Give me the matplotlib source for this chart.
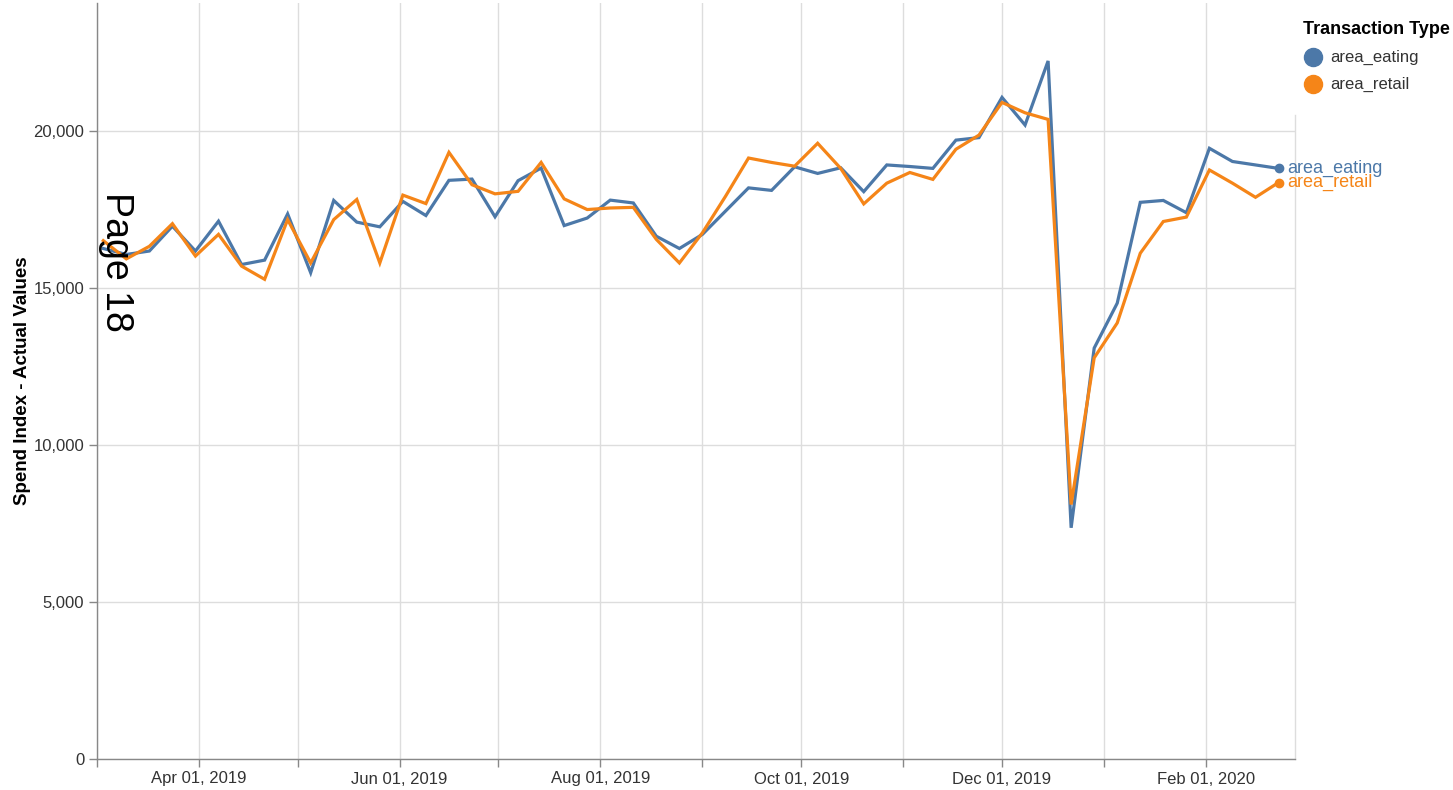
import matplotlib
matplotlib.use("Agg")
import matplotlib.pyplot as plt
import matplotlib.dates as mdates
from matplotlib.lines import Line2D
from matplotlib.ticker import FuncFormatter, MultipleLocator
import pandas as pd

plt.rcParams['font.family'] = ['Liberation Sans', 'DejaVu Sans']

week_start = "2019-03-03"
n_weeks = 52
dates = pd.date_range(week_start, periods=n_weeks, freq="7D")

area_eating = [16250, 16060, 16170, 16960, 16170, 17120, 15740, 15880, 17350, 15480,
               17780, 17090, 16940, 17750, 17300, 18420, 18460, 17260, 18410, 18810,
               16980, 17220, 17790, 17700, 16640, 16250, 16700, 17440, 18180, 18100,
               18850, 18640, 18820, 18060, 18910, 18860, 18800, 19700, 19780, 21060,
               20180, 22220, 7360, 13080, 14510, 17720, 17780, 17390, 19440, 19020,
               18910, 18800]
area_retail = [16500, 15920, 16320, 17040, 16010, 16700, 15690, 15270, 17170, 15790,
               17170, 17810, 15790, 17950, 17680, 19310, 18280, 17990, 18070, 18990,
               17830, 17490, 17540, 17560, 16540, 15790, 16750, 17910, 19130, 18990,
               18870, 19600, 18800, 17670, 18330, 18670, 18450, 19410, 19860, 20900,
               20570, 20360, 8100, 12770, 13880, 16100, 17110, 17250, 18750, 18330,
               17880, 18350]

series_names = ["area_eating", "area_retail"]
series_values = [area_eating, area_retail]
colors = ["#4c78a8", "#f58518"]

W, H = 1453, 790
fig = plt.figure(figsize=(W / 100, H / 100), dpi=100)
L, R, B, T = 96.7, 1295, 759, 3
ax = fig.add_axes([L / W, (H - B) / H, (R - L) / W, (B - T) / H])

for name, vals, c in zip(series_names, series_values, colors):
    ax.plot(dates, vals, color=c, lw=2.3, solid_joinstyle='miter', zorder=3)
    ax.plot(dates[-1:], vals[-1:], 'o', color=c, ms=6, zorder=4)
    ax.annotate(name, (dates[-1], vals[-1]), xytext=(6, 0), textcoords='offset points',
                color=c, fontsize=13, va='center', ha='left', annotation_clip=False)

ax.set_xlim(pd.Timestamp("2019-03-01"), pd.Timestamp("2020-02-28"))
ax.set_ylim(0, 24065)

ax.yaxis.set_major_locator(MultipleLocator(5000))
ax.yaxis.set_major_formatter(FuncFormatter(lambda v, p: f"{int(v):,}"))
ax.xaxis.set_major_locator(mdates.MonthLocator())
def xfmt(v, p):
    d = mdates.num2date(v)
    return d.strftime("%b %d, %Y") if d.month % 2 == 0 else ""
ax.xaxis.set_major_formatter(FuncFormatter(xfmt))

ax.grid(True, color="#dddddd", lw=1)
ax.set_axisbelow(True)
for s in ["top", "right"]:
    ax.spines[s].set_visible(False)
for s in ["left", "bottom"]:
    ax.spines[s].set_color("#888888")
    ax.spines[s].set_linewidth(1)
ax.tick_params(axis='both', colors="#888888", length=6, width=1, labelsize=12,
               labelcolor="#333333", pad=3)
# right edge grid line (partially hidden by legend)
ax.add_line(Line2D([1, 1], [0, (B - 115) / (B - T)], transform=ax.transAxes,
                   color="#dddddd", lw=1, clip_on=False))

ax.set_ylabel("Spend Index - Actual Values", fontsize=13.5, fontweight='bold',
              color="#000000", labelpad=2)

# Legend
fig.text(1303 / W, 1 - 30 / H, "Transaction Type", fontsize=13, fontweight='bold',
         va='center', ha='left', color="#000000")
for i, (name, c) in enumerate(zip(series_names, colors)):
    yy = 1 - (57 + 27 * i) / H
    fig.add_artist(Line2D([1313 / W], [yy], marker='o', ms=13, color=c,
                          linestyle='', transform=fig.transFigure))
    fig.text(1330 / W, yy, name, fontsize=12, va='center', ha='left', color="#333333")

fig.text(116 / W, 1 - 262 / H, "Page 18", fontsize=27, rotation=-90,
         va='center', ha='center', color="#000000")

fig.savefig("out.png", dpi=100)
